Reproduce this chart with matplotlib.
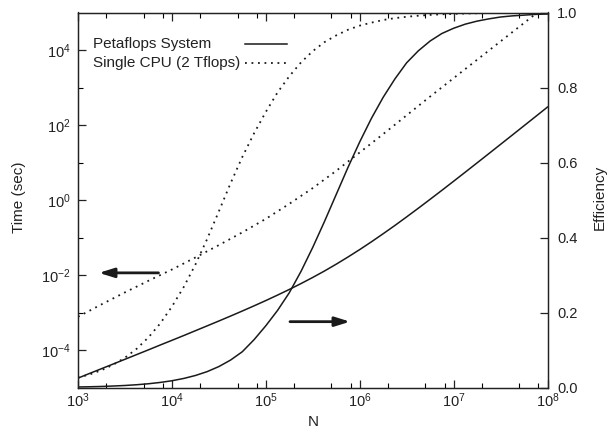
import math
import matplotlib
matplotlib.use('Agg')
import matplotlib.pyplot as plt
from matplotlib.ticker import FixedLocator, FuncFormatter, NullFormatter, LogLocator

plt.rcParams['font.family'] = ['Liberation Sans', 'DejaVu Sans']
plt.rcParams['mathtext.fontset'] = 'custom'
plt.rcParams['mathtext.rm'] = 'Liberation Sans'
plt.rcParams['mathtext.it'] = 'Liberation Sans:italic'
plt.rcParams['mathtext.default'] = 'regular'

# ---- data ----
N = [1e3, 1.334e3, 1.778e3, 2.371e3, 3.162e3, 4.217e3, 5.623e3, 7.499e3,
     1e4, 1.334e4, 1.778e4, 2.371e4, 3.162e4, 4.217e4, 5.623e4, 7.499e4,
     1e5, 1.334e5, 1.778e5, 2.371e5, 3.162e5, 4.217e5, 5.623e5, 7.499e5,
     1e6, 1.334e6, 1.778e6, 2.371e6, 3.162e6, 4.217e6, 5.623e6, 7.499e6,
     1e7, 1.334e7, 1.778e7, 2.371e7, 3.162e7, 4.217e7, 5.623e7, 7.499e7,
     1e8]

peta_time = [1.80e-5, 2.41e-5, 3.21e-5, 4.28e-5, 5.72e-5, 7.64e-5, 1.02e-4, 1.37e-4,
             1.83e-4, 2.45e-4, 3.30e-4, 4.44e-4, 5.99e-4, 8.12e-4, 1.107e-3, 1.52e-3,
             2.10e-3, 2.94e-3, 4.15e-3, 5.96e-3, 8.69e-3, 1.29e-2, 1.96e-2, 3.04e-2,
             4.80e-2, 7.74e-2, 0.127, 0.211, 0.357, 0.609, 1.05, 1.82,
             3.18, 5.58, 9.81, 17.3, 30.6, 54.1, 95.9, 170,
             302]

single_time = [7.76e-4, 1.135e-3, 1.66e-3, 2.40e-3, 3.47e-3, 4.95e-3, 7.08e-3, 1.00e-2,
               1.41e-2, 2.04e-2, 2.95e-2, 4.32e-2, 6.31e-2, 9.33e-2, 0.138, 0.209,
               0.316, 0.501, 0.794, 1.29, 2.09, 3.55, 6.03, 10.6,
               18.6, 32.7, 57.5, 102, 182, 324, 575, 1010,
               1780, 3130, 5500, 9660, 1.70e4, 2.99e4, 5.25e4, 9.23e4,
               1.62e5]

peta_eff = [0.0019, 0.0025, 0.0033, 0.0045, 0.0059, 0.0079, 0.0105, 0.0140,
            0.0185, 0.0246, 0.0325, 0.0428, 0.0563, 0.0737, 0.0959, 0.128,
            0.165, 0.206, 0.253, 0.310, 0.374, 0.443, 0.515, 0.587,
            0.655, 0.718, 0.774, 0.823, 0.866, 0.898, 0.924, 0.944,
            0.958, 0.969, 0.977, 0.983, 0.988, 0.991, 0.993, 0.995,
            0.996]

single_eff = [0.0267, 0.0354, 0.0466, 0.0612, 0.0799, 0.1038, 0.134, 0.171,
              0.216, 0.268, 0.328, 0.396, 0.470, 0.545, 0.615, 0.678,
              0.735, 0.787, 0.830, 0.867, 0.897, 0.921, 0.939, 0.954,
              0.965, 0.973, 0.980, 0.985, 0.9886, 0.9914, 0.9936, 0.9952,
              0.9964, 0.9973, 0.998, 0.9985, 0.9989, 0.9991, 0.9994, 0.9995,
              0.9996]

series_labels = ['Petaflops System', 'Single CPU (2 Tflops)']

x_major = [1e3, 1e4, 1e5, 1e6, 1e7, 1e8]
y_major = [1e-4, 1e-2, 1e0, 1e2, 1e4]
y_minor = [1e-3, 1e-1, 1e1, 1e3]
eff_ticks = [0.0, 0.2, 0.4, 0.6, 0.8, 1.0]

# arrow annotations (data coordinates)
left_arrow = ((7.2e3, 1.15e-2), (1.67e3, 1.15e-2))   # (tail, head) on time axis
right_arrow = ((1.81e5, 0.176), (7.9e5, 0.176))      # (tail, head) on efficiency axis

# ---- figure ----
W, H = 609, 433
fig = plt.figure(figsize=(W / 100, H / 100), dpi=100)
ax = fig.add_axes([78 / W, 1 - 387.7 / H, 469.5 / W, 375.2 / H])
ax2 = ax.twinx()

ink = '#1a1a1a'
lw = 1.1
dot = (0, (1.0, 2.6))

l1, = ax.plot(N, peta_time, color=ink, lw=lw, ls='-')
l2, = ax.plot(N, single_time, color=ink, lw=lw + 0.2, ls=dot)
ax2.plot(N, peta_eff, color=ink, lw=lw, ls='-')
ax2.plot(N, single_eff, color=ink, lw=lw + 0.2, ls=dot)

ax.set_xscale('log')
ax.set_yscale('log')
ax.set_xlim(1e3, 1e8)
ax.set_ylim(1e-5, 1e5)
ax2.set_ylim(0, 1)

fs = 10.5
pow_fmt = FuncFormatter(lambda v, p: r'$10^{%d}$' % round(math.log10(v)))
ax.xaxis.set_major_locator(FixedLocator(x_major))
ax.xaxis.set_minor_locator(LogLocator(base=10, subs=(2.0, 5.0, 8.0)))
ax.xaxis.set_minor_formatter(NullFormatter())
ax.xaxis.set_major_formatter(pow_fmt)
ax.yaxis.set_major_locator(FixedLocator(y_major))
ax.yaxis.set_minor_locator(FixedLocator(y_minor))
ax.yaxis.set_minor_formatter(NullFormatter())
ax.yaxis.set_major_formatter(pow_fmt)
ax2.yaxis.set_major_locator(FixedLocator(eff_ticks))
ax2.yaxis.set_major_formatter(FuncFormatter(lambda v, p: '%.1f' % v))

tc = '#222222'
ax.tick_params(axis='x', which='major', direction='in', top=True, bottom=True,
               length=6, width=0.9, pad=3, labelsize=fs, colors=tc)
ax.tick_params(axis='x', which='minor', direction='in', top=True, bottom=True,
               length=3.5, width=0.8)
ax.tick_params(axis='y', which='major', direction='in', left=True, right=False,
               length=6, width=0.9, pad=5, labelsize=fs, colors=tc)
ax.tick_params(axis='y', which='minor', direction='in', left=True, right=False,
               length=3.5, width=0.8)
ax2.tick_params(axis='y', which='major', direction='in', right=True, left=False,
                length=6, width=0.9, pad=7, labelsize=fs, colors=tc)
ax2.tick_params(axis='y', which='minor', right=False, left=False)

for a in (ax, ax2):
    for s in a.spines.values():
        s.set_color('#222222')
        s.set_linewidth(0.9)

# legend (gnuplot style: left-aligned text, sample to the right)
leg_x_text = 0.032
leg_rows = [0.916, 0.8654]
leg_sample = (0.3557, 0.445)
for lab, yy, style, w in zip(series_labels, leg_rows, ['-', dot], [lw, lw + 0.2]):
    ax2.text(leg_x_text, yy, lab, transform=ax2.transAxes, ha='left', va='center',
             fontsize=11, color=tc)
    ax2.plot(leg_sample, [yy, yy], transform=ax2.transAxes, color=ink, lw=w, ls=style)

# arrows
ax.annotate('', xy=left_arrow[1], xytext=left_arrow[0],
            arrowprops=dict(arrowstyle='-|>,head_length=0.9,head_width=0.28',
                            color=ink, lw=2.0, shrinkA=0, shrinkB=0, mutation_scale=10))
ax2.annotate('', xy=right_arrow[1], xytext=right_arrow[0],
             arrowprops=dict(arrowstyle='-|>,head_length=0.9,head_width=0.28',
                             color=ink, lw=2.0, shrinkA=0, shrinkB=0, mutation_scale=10))

# axis labels
fig.text(19 / W, 1 - 197 / H, 'Time (sec)', rotation=90, ha='center', va='center',
         fontsize=11, color=tc)
fig.text(313 / W, 1 - 422 / H, 'N', ha='center', va='center', fontsize=11, color=tc)
fig.text(600 / W, 1 - 197 / H, 'Efficiency', rotation=90, ha='center', va='center',
         fontsize=11, color=tc)

fig.savefig('out.png', dpi=100)
